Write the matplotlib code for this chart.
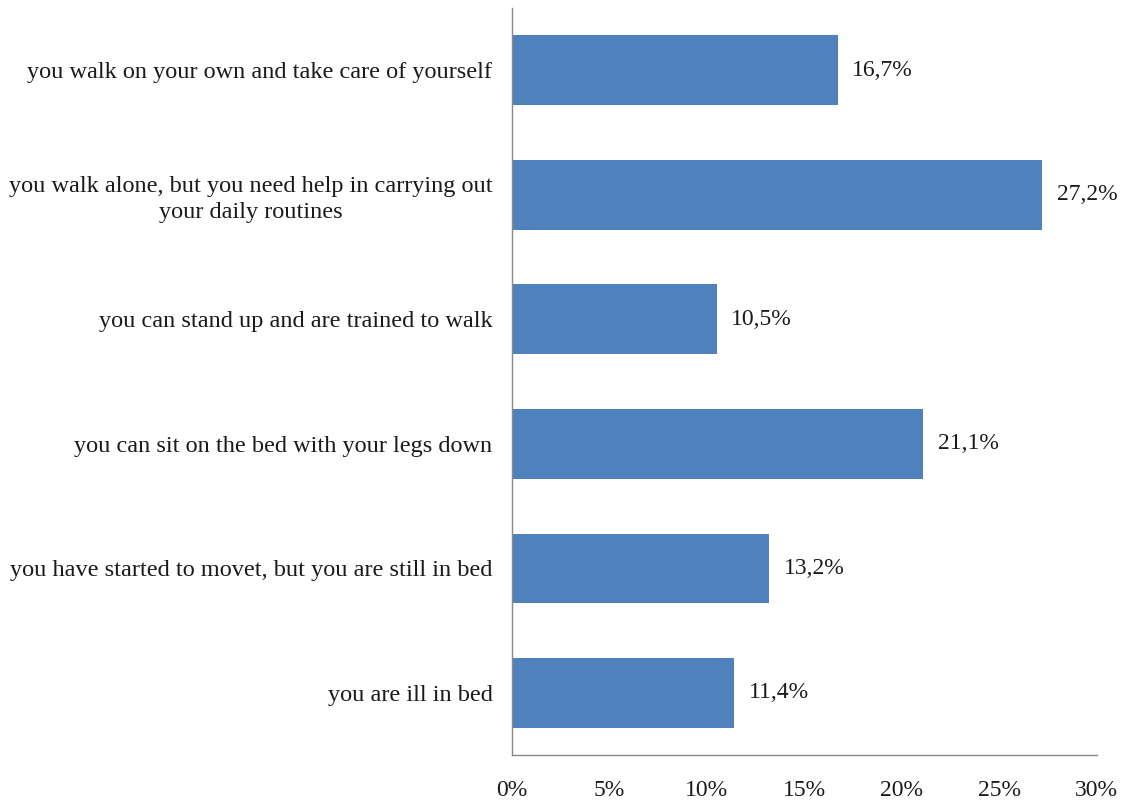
import matplotlib.pyplot as plt
from matplotlib.ticker import FuncFormatter

categories = [
    "you walk on your own and take care of yourself",
    "you walk alone, but you need help in carrying out\nyour daily routines",
    "you can stand up and are trained to walk",
    "you can sit on the bed with your legs down",
    "you have started to movet, but you are still in bed",
    "you are ill in bed",
]
values = [16.7, 27.2, 10.5, 21.1, 13.2, 11.4]
ticks = [0, 5, 10, 15, 20, 25, 30]

plt.rcParams['font.family'] = ['Liberation Serif', 'DejaVu Serif']

fig = plt.figure(figsize=(11.25, 8), dpi=100)
ax = fig.add_axes([0.455, 0.056, 0.52, 0.934])

y = list(range(len(categories)))
ax.barh(y, values, height=0.56, color='#4F81BD')
for yi, v in zip(y, values):
    ax.text(v + 0.75, yi, f"{v:.1f}%".replace('.', ','), va='center', ha='left',
            fontsize=17, color='#1a1a1a')

ax.set_ylim(len(categories) - 0.5, -0.5)
ax.set_xlim(0, 30)
ax.set_yticks(y)
ax.set_yticklabels(categories, fontsize=17.5, color='#1a1a1a',
                   multialignment='center', linespacing=1.3)
ax.set_xticks(ticks)
ax.xaxis.set_major_formatter(FuncFormatter(lambda v, p: f"{v:.0f}%"))
ax.tick_params(axis='x', labelsize=17, length=0, pad=18, colors='#1a1a1a')
ax.tick_params(axis='y', length=0, pad=14)

for s in ['top', 'right']:
    ax.spines[s].set_visible(False)
for s in ['left', 'bottom']:
    ax.spines[s].set_color('#888888')
    ax.spines[s].set_linewidth(1)

fig.savefig('out.png', dpi=100)
